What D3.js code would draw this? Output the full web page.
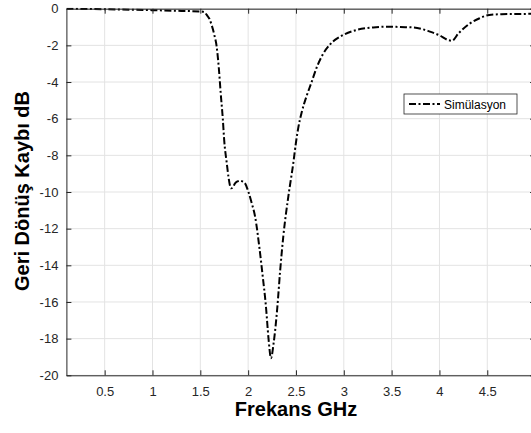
<!DOCTYPE html>
<html lang="tr">
<head>
<meta charset="utf-8">
<title>Geri Dönüş Kaybı</title>
<script src="https://d3js.org/d3.v7.min.js"></script>
<style>
  body { margin: 0; background: #fff; }
  svg { display: block; font-family: Arial, "Liberation Sans", Helvetica, sans-serif; }
</style>
</head>
<body>
<div id="chart"></div>
<script>
// frequency (GHz) and return loss (dB)
var freq = [0.1, 0.5, 1.0, 1.3, 1.5, 1.543, 1.567, 1.595, 1.619, 1.645, 1.671, 1.693, 1.713, 1.735, 1.75,
  1.776, 1.795, 1.821, 1.84, 1.863, 1.89, 1.915, 1.94, 1.968, 2.002, 2.037, 2.073, 2.117, 2.148, 2.187,
  2.213, 2.239, 2.265, 2.305, 2.333, 2.368, 2.42, 2.472, 2.5, 2.524, 2.56, 2.612, 2.659, 2.717, 2.78, 2.856,
  2.995, 3.134, 3.308, 3.483, 3.59, 3.73, 3.9, 4.0, 4.09, 4.13, 4.2, 4.32, 4.42, 4.52, 4.65, 4.77, 5.0];
var rl = [0, -0.03, -0.08, -0.12, -0.15, -0.19, -0.34, -0.55, -0.9, -1.4, -2.07, -3.2, -4.6, -6.0, -7.2,
  -8.4, -9.2, -9.8, -9.75, -9.53, -9.42, -9.38, -9.42, -9.53, -9.98, -10.6, -11.35, -13.0, -14.4, -16.3,
  -18.0, -19.07, -18.3, -16.3, -14.4, -12.4, -10.25, -8.43, -7.3, -6.5, -5.65, -4.75, -4.07, -3.2, -2.5, -1.95,
  -1.43, -1.16, -1.02, -0.98, -1.0, -1.02, -1.25, -1.45, -1.71, -1.75, -1.34, -0.8, -0.52, -0.34, -0.3, -0.29, -0.28];

var xTicks = [0.5, 1, 1.5, 2, 2.5, 3, 3.5, 4, 4.5];
var yTicks = [0, -2, -4, -6, -8, -10, -12, -14, -16, -18, -20];

var width = 531, height = 433;
var margin = {top: 8.7, left: 66.4, bottom: 433 - 375.3};
var plotW = 535.1 - margin.left, plotH = height - margin.top - margin.bottom;
var axisColor = "#262626";

var svg = d3.select("#chart").append("svg")
    .attr("width", width)
    .attr("height", height);

var x = d3.scaleLinear().domain([0.1, 5]).range([0, plotW]);
var y = d3.scaleLinear().domain([-20, 0]).range([plotH, 0]);

var g = svg.append("g")
    .attr("transform", "translate(" + margin.left + "," + margin.top + ")");

// grid
g.append("g").selectAll("line").data(xTicks).enter().append("line")
    .attr("x1", d => x(d)).attr("x2", d => x(d))
    .attr("y1", 0).attr("y2", plotH)
    .attr("stroke", "#e3e3e3").attr("stroke-width", 1);
g.append("g").selectAll("line").data(yTicks).enter().append("line")
    .attr("x1", 0).attr("x2", plotW)
    .attr("y1", d => y(d)).attr("y2", d => y(d))
    .attr("stroke", "#e3e3e3").attr("stroke-width", 1);

// curve
svg.append("clipPath").attr("id", "clip")
  .append("rect").attr("width", plotW).attr("height", plotH + 2).attr("y", -1);

var line = d3.line()
    .x(function(d, i) { return x(freq[i]); })
    .y(function(d) { return y(d); })
    .curve(d3.curveMonotoneX);

g.append("path")
    .datum(rl)
    .attr("clip-path", "url(#clip)")
    .attr("d", line)
    .attr("fill", "none")
    .attr("stroke", "#000")
    .attr("stroke-width", 2)
    .attr("stroke-dasharray", "7,2.5,2,2.5");

// axes, ticks pointing inward like MATLAB; plain hyphen for minus
var fmt = function(d) { return String(d); };
var xAxis = d3.axisBottom(x).tickValues(xTicks).tickSizeInner(-5).tickSizeOuter(0).tickPadding(11)
    .tickFormat(fmt);
var xAxisTop = d3.axisTop(x).tickValues(xTicks).tickSizeInner(-5).tickSizeOuter(0).tickFormat("");
var yAxis = d3.axisLeft(y).tickValues(yTicks).tickSizeInner(-5).tickSizeOuter(0).tickPadding(8)
    .tickFormat(fmt);
var yAxisRight = d3.axisRight(y).tickValues(yTicks).tickSizeInner(-5).tickSizeOuter(0).tickFormat("");

[g.append("g").attr("transform", "translate(0," + plotH + ")").call(xAxis),
 g.append("g").call(xAxisTop),
 g.append("g").call(yAxis),
 g.append("g").attr("transform", "translate(" + plotW + ",0)").call(yAxisRight)
].forEach(function(a) {
  a.attr("font-size", 13).attr("font-family", null);
  a.select(".domain").attr("stroke", axisColor);
  a.selectAll(".tick line").attr("stroke", axisColor);
  a.selectAll(".tick text").attr("fill", axisColor);
});

// axis labels
svg.append("text")
    .attr("x", 296).attr("y", 416)
    .attr("text-anchor", "middle")
    .attr("font-size", 20).attr("font-weight", "bold").attr("fill", "#000")
    .text("Frekans GHz");

svg.append("text")
    .attr("transform", "translate(29,191) rotate(-90)")
    .attr("text-anchor", "middle")
    .attr("font-size", 20).attr("font-weight", "bold").attr("fill", "#000")
    .text("Geri Dönüş Kaybı dB");

// legend
var lg = svg.append("g").attr("transform", "translate(404,94)");
lg.append("rect").attr("width", 113).attr("height", 20)
    .attr("fill", "#fff").attr("stroke", axisColor).attr("stroke-width", 0.8);
lg.append("line").attr("x1", 5).attr("x2", 36).attr("y1", 10).attr("y2", 10)
    .attr("stroke", "#000").attr("stroke-width", 2).attr("stroke-dasharray", "7,2.5,2,2.5");
lg.append("text").attr("x", 40).attr("y", 14.5)
    .attr("font-size", 12).attr("fill", "#000")
    .text("Simülasyon");
</script>
</body>
</html>
